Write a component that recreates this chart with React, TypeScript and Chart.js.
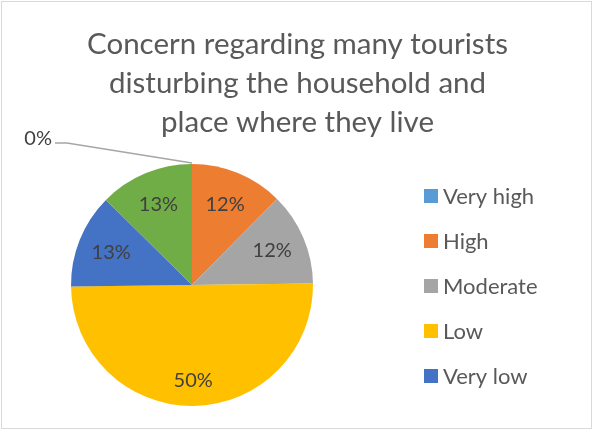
import React, { useEffect, useRef } from "react";
import { Chart, registerables } from "chart.js";

Chart.register(...registerables);

const titleLines = ["Concern regarding many tourists", "disturbing the household and", "place where they live"];
const categories = ["Very high", "High", "Moderate", "Low", "Very low", "Not at all"];
const shares = [0, 12.4, 12.4, 50, 12.6, 12.6];
const sliceColors = ["#5B9BD5", "#ED7D31", "#A5A5A5", "#FFC000", "#4472C4", "#70AD47"];
const legendCount = 5;

const FONT = "Lato, 'Open Sans', sans-serif";

const decorPlugin = {
  id: "decor",
  beforeDraw(chart: any) {
    const ctx = chart.ctx;
    ctx.save();
    ctx.fillStyle = "#ffffff";
    ctx.fillRect(0, 0, chart.width, chart.height);
    ctx.restore();
  },
  afterDraw(chart: any) {
    const ctx = chart.ctx;
    const W = chart.width;
    const H = chart.height;
    ctx.save();
    // frame
    ctx.strokeStyle = "#d9d9d9";
    ctx.lineWidth = 1;
    ctx.strokeRect(1.5, 1.5, W - 3, H - 3);

    // title
    ctx.fillStyle = "#595959";
    ctx.font = `29.5px ${FONT}`;
    ctx.textAlign = "center";
    ctx.textBaseline = "alphabetic";
    titleLines.forEach((t, i) => ctx.fillText(t, W / 2 + 1, 54 + i * 39));

    // legend
    ctx.font = `22px ${FONT}`;
    ctx.textAlign = "left";
    ctx.textBaseline = "middle";
    const ds = chart.data.datasets[0];
    for (let i = 0; i < legendCount; i++) {
      const y = 196 + i * 45;
      ctx.fillStyle = ds.backgroundColor[i];
      ctx.fillRect(424, y - 7, 14, 14);
      ctx.fillStyle = "#595959";
      ctx.fillText(chart.data.labels[i], 443, y + 1);
    }

    // data labels
    const meta = chart.getDatasetMeta(0);
    const vals = ds.data as number[];
    const total = vals.reduce((a, b) => a + b, 0);
    ctx.font = `20px ${FONT}`;
    ctx.fillStyle = "#404040";
    ctx.textAlign = "center";
    meta.data.forEach((arc: any, i: number) => {
      const p = arc.getProps(["x", "y", "startAngle", "endAngle", "outerRadius"], true);
      const txt = Math.round((vals[i] / total) * 100) + "%";
      const mid = (p.startAngle + p.endAngle) / 2;
      if (vals[i] === 0) {
        const ex = p.x + Math.cos(mid) * p.outerRadius;
        const ey = p.y + Math.sin(mid) * p.outerRadius;
        ctx.strokeStyle = "#a6a6a6";
        ctx.lineWidth = 1.5;
        ctx.beginPath();
        ctx.moveTo(ex, ey - 1);
        ctx.lineTo(ex - 125, ey - 21);
        ctx.lineTo(ex - 137, ey - 21);
        ctx.stroke();
        ctx.fillStyle = "#404040";
        ctx.textAlign = "right";
        ctx.fillText(txt, ex - 140, ey - 25);
        ctx.textAlign = "center";
      } else {
        const f = vals[i] / total >= 0.4 ? 0.79 : 0.72;
        const lx = p.x + Math.cos(mid) * p.outerRadius * f;
        const ly = p.y + Math.sin(mid) * p.outerRadius * f;
        ctx.fillText(txt, lx, ly);
      }
    });
    ctx.restore();
  },
};

export default function App() {
  const ref = useRef<HTMLCanvasElement>(null);
  useEffect(() => {
    document.body.style.margin = "0";
    const chart = new Chart(ref.current!, {
      type: "pie",
      data: {
        labels: categories,
        datasets: [
          {
            data: shares,
            backgroundColor: sliceColors,
            borderWidth: 0,
          },
        ],
      },
      options: {
        animation: false,
        responsive: false,
        layout: { padding: { top: 164, bottom: 24, left: 71, right: 280 } },
        plugins: {
          legend: { display: false },
          title: { display: false },
          tooltip: { enabled: false },
        },
      },
      plugins: [decorPlugin],
    });
    return () => chart.destroy();
  }, []);
  return (
    <div style={{ width: 593, height: 430 }}>
      <canvas ref={ref} width={593} height={430} style={{ display: "block" }} />
    </div>
  );
}
